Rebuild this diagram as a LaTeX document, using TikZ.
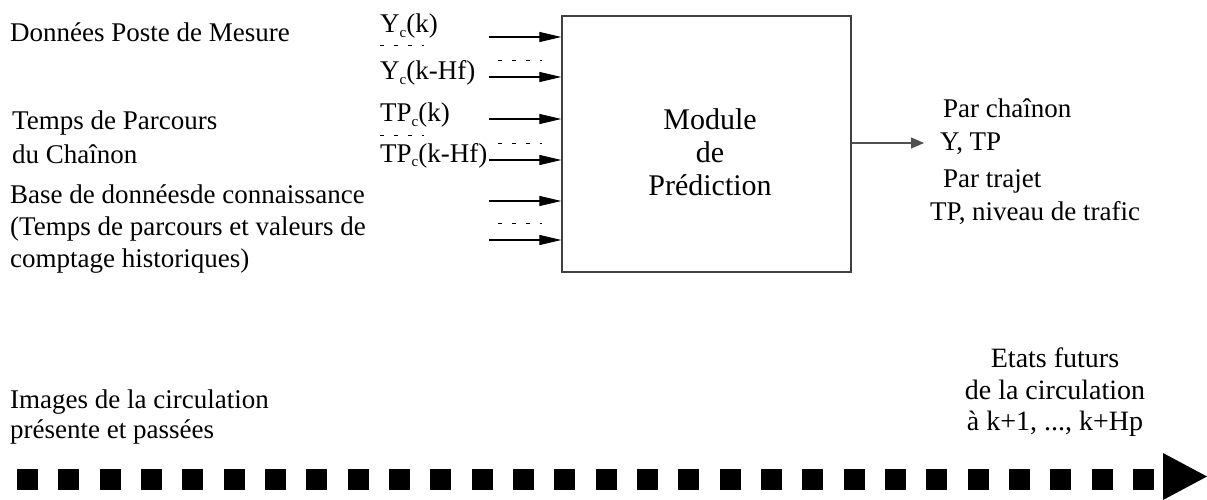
\documentclass[tikz,border=0pt]{standalone}
\usepackage{fontspec}
\setmainfont{Liberation Serif}
\usepackage{xcolor}
\usetikzlibrary{arrows.meta,positioning,calc}
\definecolor{boxGray}{HTML}{404040}
\definecolor{outGray}{HTML}{505050}
\newcommand{\subc}{\raisebox{-0.35ex}{\fontsize{15}{15}\selectfont c}}

\begin{document}
\begin{tikzpicture}[x=1pt, y=-1pt, >=Stealth,
  txt/.style={anchor=base west, inner sep=0pt, font=\fontsize{27}{33}\selectfont},
  ctxt/.style={anchor=base, inner sep=0pt, font=\fontsize{28}{33}\selectfont},
  inarr/.style={-{Triangle[length=22pt,width=10pt]}, line width=1.1pt},
  outarr/.style={-{Triangle[length=13pt,width=11pt]}, outGray, line width=1.3pt},
  tick/.style={dash pattern=on 4pt off 10pt, line width=0.8pt}]
\useasboundingbox (0,0) rectangle (1207,500);
% module box
\node[draw=boxGray, line width=1.3pt, minimum width=289pt, minimum height=256pt, inner sep=0pt] (mod) at (706.5,144) {};
\node[ctxt, font=\fontsize{30}{33}\selectfont] (m1) at (710,130) {Module};
\node[ctxt, font=\fontsize{30}{33}\selectfont] (m2) at (710,162) {de};
\node[ctxt, font=\fontsize{30}{33}\selectfont] (m3) at (710,195) {Prédiction};
% sources
\node[txt] (pm) at (10,42) {Données Poste de Mesure};
\node[txt] (tp1) at (12,130) {Temps de Parcours};
\node[txt] (tp2) at (12,163) {du Chaînon};
\node[txt] (bd1) at (10,203) {Base de donnéesde connaissance};
\node[txt] (bd2) at (10,235) {(Temps de parcours et valeurs de};
\node[txt] (bd3) at (10,267) {comptage historiques)};
% input signals
\node[txt] (yk) at (380,33) {Y\subc(k)};
\node[txt] (yh) at (380,80) {Y\subc(k-Hf)};
\node[txt] (tk) at (380,122) {TP\subc(k)};
\node[txt] (th) at (380,162) {TP\subc(k-Hf)};
\foreach \n/\y in {1/37,2/77,3/119,4/160,5/201,6/240}{
  \coordinate (in\n) at (489,\y);
  \draw[inarr] (in\n) -- (in\n -| mod.west);
}
\draw[tick] (380,45) -- (424,45);
\draw[tick] (498,60) -- (542,60);
\draw[tick] (380,135) -- (424,135);
\draw[tick] (498,143) -- (542,143);
\draw[tick] (498,223) -- (542,223);
% output
\coordinate (out) at (924,143);
\draw[outarr] (mod.east |- out) -- (out);
\node[txt] (pc) at (943,118) {Par chaînon};
\node[txt] (ytp) at (940,150) {Y, TP};
\node[txt] (pt) at (943,187) {Par trajet};
\node[txt] (niv) at (930,220) {TP, niveau de trafic};
% time line
\node[txt] (im1) at (10,408) {Images de la circulation};
\node[txt] (im2) at (10,438) {présente et passées};
\node[ctxt] (ef1) at (1055,367) {Etats futurs};
\node[ctxt] (ef2) at (1055,399) {de la circulation};
\node[ctxt] (ef3) at (1055,430) {à k+1, ..., k+Hp};
\foreach \i in {0,...,27}{
  \fill ({17+41.33*\i},469) rectangle ++(21,21);
}
\fill (1163,453) -- (1207,476.5) -- (1163,500) -- cycle;
\end{tikzpicture}
\end{document}
